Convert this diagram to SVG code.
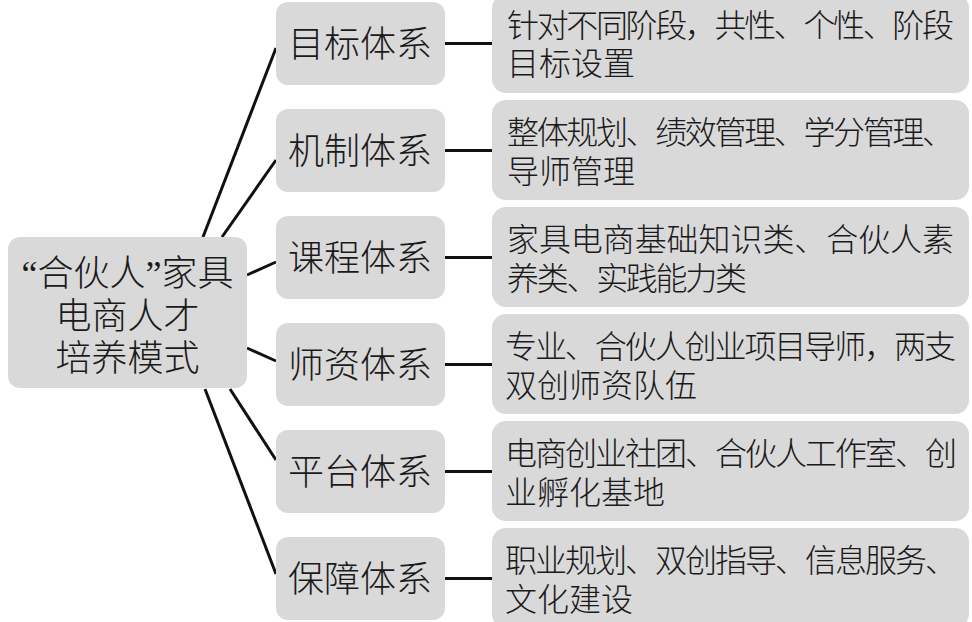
<svg xmlns="http://www.w3.org/2000/svg" width="972" height="622" viewBox="0 0 972 622">
<style>
.box{fill:#d9d9d9;}
.t{font-family:"Noto Sans CJK SC","Liberation Serif",sans-serif;fill:#1a1a1a;font-weight:300;}
.root{font-size:36px;text-anchor:middle;}
.mid{font-size:36px;}
.leaf{font-size:32px;}
.q{font-family:"Liberation Serif","Noto Sans CJK SC",serif;}
.c{stroke:#111;stroke-width:3;fill:none;stroke-linecap:butt;}
</style>
<rect width="972" height="622" fill="#ffffff"/>
<g id="connectors">
<line class="c" x1="203" y1="237" x2="276" y2="48"/>
<line class="c" x1="222" y1="237" x2="276" y2="160"/>
<line class="c" x1="247" y1="275" x2="276" y2="262"/>
<line class="c" x1="247" y1="348" x2="276" y2="361"/>
<line class="c" x1="230" y1="389" x2="276" y2="460"/>
<line class="c" x1="205" y1="389" x2="276" y2="574"/>
<line class="c" x1="445" y1="43.5" x2="492" y2="43.5"/>
<line class="c" x1="445" y1="150.5" x2="492" y2="150.5"/>
<line class="c" x1="445" y1="257.5" x2="492" y2="257.5"/>
<line class="c" x1="445" y1="364.5" x2="492" y2="364.5"/>
<line class="c" x1="445" y1="471.5" x2="492" y2="471.5"/>
<line class="c" x1="445" y1="578.5" x2="492" y2="578.5"/>
</g>
<g id="root">
<rect class="box" x="8" y="237" width="239" height="151" rx="12"/>
<text class="t root"><tspan x="127.5" y="286"><tspan class="q">“</tspan>合伙人<tspan class="q">”</tspan>家具</tspan><tspan x="127.5" y="329">电商人才</tspan><tspan x="127.5" y="371">培养模式</tspan></text>
</g>
<g id="n1">
<rect class="box" x="276" y="2" width="169" height="83" rx="12"/>
<text class="t mid" x="288" y="56.5">目标体系</text>
</g>
<g id="n2">
<rect class="box" x="276" y="109" width="169" height="83" rx="12"/>
<text class="t mid" x="288" y="163.5">机制体系</text>
</g>
<g id="n3">
<rect class="box" x="276" y="216" width="169" height="83" rx="12"/>
<text class="t mid" x="288" y="270.5">课程体系</text>
</g>
<g id="n4">
<rect class="box" x="276" y="323" width="169" height="83" rx="12"/>
<text class="t mid" x="288" y="377.5">师资体系</text>
</g>
<g id="n5">
<rect class="box" x="276" y="430" width="169" height="83" rx="12"/>
<text class="t mid" x="288" y="484.5">平台体系</text>
</g>
<g id="n6">
<rect class="box" x="276" y="537" width="169" height="83" rx="12"/>
<text class="t mid" x="288" y="591.5">保障体系</text>
</g>
<g id="d1">
<rect class="box" x="492" y="-6" width="477" height="99" rx="14"/>
<text class="t leaf"><tspan x="507" y="36.5" textLength="447" lengthAdjust="spacing">针对不同阶段，共性、个性、阶段</tspan><tspan x="507" y="74.5">目标设置</tspan></text>
</g>
<g id="d2">
<rect class="box" x="492" y="100" width="477" height="100" rx="14"/>
<text class="t leaf"><tspan x="507" y="143.5" textLength="447" lengthAdjust="spacing">整体规划、绩效管理、学分管理、</tspan><tspan x="507" y="182.5">导师管理</tspan></text>
</g>
<g id="d3">
<rect class="box" x="492" y="207" width="477" height="100" rx="14"/>
<text class="t leaf"><tspan x="507" y="250.5" textLength="447" lengthAdjust="spacing">家具电商基础知识类、合伙人素</tspan><tspan x="507" y="289.5" textLength="240" lengthAdjust="spacing">养类、实践能力类</tspan></text>
</g>
<g id="d4">
<rect class="box" x="492" y="314" width="477" height="100" rx="14"/>
<text class="t leaf"><tspan x="505" y="357.5" textLength="451" lengthAdjust="spacing">专业、合伙人创业项目导师，两支</tspan><tspan x="505" y="396.5">双创师资队伍</tspan></text>
</g>
<g id="d5">
<rect class="box" x="492" y="421" width="477" height="100" rx="14"/>
<text class="t leaf"><tspan x="505" y="464.5" textLength="452" lengthAdjust="spacing">电商创业社团、合伙人工作室、创</tspan><tspan x="505" y="503.5">业孵化基地</tspan></text>
</g>
<g id="d6">
<rect class="box" x="492" y="528" width="477" height="100" rx="14"/>
<text class="t leaf"><tspan x="505" y="571.5" textLength="452" lengthAdjust="spacing">职业规划、双创指导、信息服务、</tspan><tspan x="505" y="610.5">文化建设</tspan></text>
</g>
</svg>
